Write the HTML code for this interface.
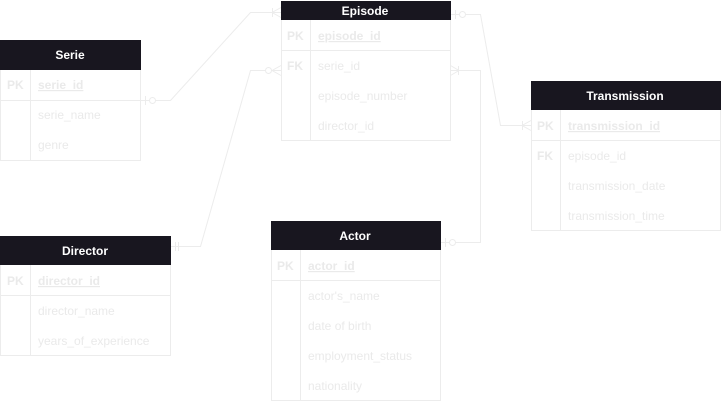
<!DOCTYPE html>
<html><head><meta charset="utf-8"><style>
html,body{margin:0;padding:0;background:#fff;width:721px;height:401px;overflow:hidden}
svg text{font-family:"Liberation Sans",sans-serif;font-size:12px}
.t{fill:#eaeaea}
.h{fill:#fff;font-weight:bold;text-anchor:middle}
.b{fill:none;stroke:#ececec;stroke-width:1}
.hd{fill:#18161f}
</style></head><body>
<svg width="721" height="401" viewBox="0 0 721 401" xmlns="http://www.w3.org/2000/svg">
<!-- connectors -->
<g class="b">
<polyline points="140.5,100.5 170.5,100.5 250.5,12.5 281,12.5"/>
<line x1="145.5" y1="96" x2="145.5" y2="105"/><circle cx="152.5" cy="100.5" r="3" fill="#fff"/>
<line x1="272" y1="12.5" x2="281" y2="7.5"/><line x1="272" y1="12.5" x2="281" y2="17.5"/><line x1="272.5" y1="8" x2="272.5" y2="17"/>

<polyline points="450.5,14.5 480.5,14.5 500.5,125.5 531,125.5"/>
<line x1="455.5" y1="10" x2="455.5" y2="19"/><circle cx="462.5" cy="14.5" r="3" fill="#fff"/>
<line x1="522" y1="125.5" x2="531" y2="120.5"/><line x1="522" y1="125.5" x2="531" y2="130.5"/><line x1="522.5" y1="121" x2="522.5" y2="130"/>

<polyline points="170.5,246.5 200.5,246.5 250.5,70.5 281,70.5"/>
<line x1="175.5" y1="242" x2="175.5" y2="251"/><line x1="178.5" y1="242" x2="178.5" y2="251"/>
<circle cx="268.5" cy="70.5" r="3" fill="#fff"/>
<line x1="272" y1="70.5" x2="281" y2="65.5"/><line x1="272" y1="70.5" x2="281" y2="75.5"/>

<polyline points="440.5,242.5 480.5,242.5 480.5,70.5 450.5,70.5"/>
<line x1="445.5" y1="238" x2="445.5" y2="247"/><circle cx="452.5" cy="242.5" r="3" fill="#fff"/>
<line x1="459" y1="70.5" x2="450.5" y2="65.5"/><line x1="459" y1="70.5" x2="450.5" y2="75.5"/><line x1="458.5" y1="66" x2="458.5" y2="75"/>
</g>

<!-- Serie -->
<rect class="b" x="0.5" y="40.5" width="140" height="120"/>
<rect class="hd" x="0" y="40" width="141" height="30"/>
<text class="h" x="70" y="59">Serie</text>
<line class="b" x1="0" y1="100.5" x2="141" y2="100.5"/><line class="b" x1="30.5" y1="70" x2="30.5" y2="160"/>
<text class="t" x="7" y="89" font-weight="bold">PK</text>
<text class="t" x="38" y="89" text-decoration="underline" font-weight="bold">serie_id</text>
<text class="t" x="38" y="119">serie_name</text>
<text class="t" x="38" y="149">genre</text>

<!-- Episode -->
<rect class="b" x="281.5" y="1.5" width="169" height="139"/>
<rect class="hd" x="281" y="1" width="170" height="19"/>
<text class="h" x="365" y="15">Episode</text>
<line class="b" x1="281" y1="50.5" x2="451" y2="50.5"/><line class="b" x1="310.5" y1="20" x2="310.5" y2="140"/>
<text class="t" x="287" y="40" font-weight="bold">PK</text>
<text class="t" x="318" y="40" text-decoration="underline" font-weight="bold">episode_id</text>
<text class="t" x="287" y="70" font-weight="bold">FK</text>
<text class="t" x="318" y="70">serie_id</text>
<text class="t" x="318" y="100">episode_number</text>
<text class="t" x="318" y="130">director_id</text>

<!-- Transmission -->
<rect class="b" x="531.5" y="81.5" width="189" height="149"/>
<rect class="hd" x="531" y="81" width="190" height="29"/>
<text class="h" x="625" y="100">Transmission</text>
<line class="b" x1="531" y1="140.5" x2="721" y2="140.5"/><line class="b" x1="560.5" y1="110" x2="560.5" y2="230"/>
<text class="t" x="537" y="130" font-weight="bold">PK</text>
<text class="t" x="568" y="130" text-decoration="underline" font-weight="bold">transmission_id</text>
<text class="t" x="537" y="160" font-weight="bold">FK</text>
<text class="t" x="568" y="160">episode_id</text>
<text class="t" x="568" y="190">transmission_date</text>
<text class="t" x="568" y="220">transmission_time</text>

<!-- Director -->
<rect class="b" x="0.5" y="236.5" width="170" height="119"/>
<rect class="hd" x="0" y="236" width="171" height="29"/>
<text class="h" x="85" y="255">Director</text>
<line class="b" x1="0" y1="295.5" x2="171" y2="295.5"/><line class="b" x1="30.5" y1="265" x2="30.5" y2="355"/>
<text class="t" x="7" y="285" font-weight="bold">PK</text>
<text class="t" x="38" y="285" text-decoration="underline" font-weight="bold">director_id</text>
<text class="t" x="38" y="315">director_name</text>
<text class="t" x="38" y="345">years_of_experience</text>

<!-- Actor -->
<rect class="b" x="271.5" y="221.5" width="169" height="179"/>
<rect class="hd" x="271" y="221" width="170" height="29"/>
<text class="h" x="355" y="240">Actor</text>
<line class="b" x1="271" y1="280.5" x2="441" y2="280.5"/><line class="b" x1="300.5" y1="250" x2="300.5" y2="400"/>
<text class="t" x="277" y="270" font-weight="bold">PK</text>
<text class="t" x="308" y="270" text-decoration="underline" font-weight="bold">actor_id</text>
<text class="t" x="308" y="300">actor's_name</text>
<text class="t" x="308" y="330">date of birth</text>
<text class="t" x="308" y="360">employment_status</text>
<text class="t" x="308" y="390">nationality</text>
</svg>
</body></html>
